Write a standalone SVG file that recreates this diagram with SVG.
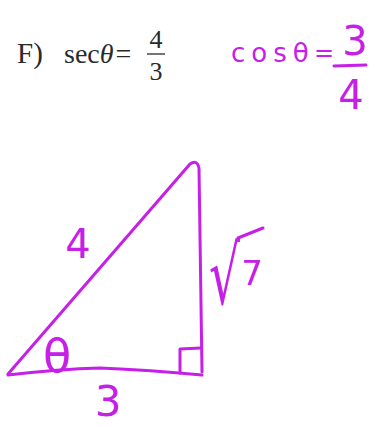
<svg xmlns="http://www.w3.org/2000/svg" width="382" height="427" viewBox="0 0 382 427">
<style>
.pen{fill:none;stroke:#c620e8;stroke-width:3;stroke-linecap:round;stroke-linejoin:round}
.hand{fill:#c620e8;font-family:"DejaVu Sans",sans-serif}
.print{fill:#2a2a2a;font-family:"Liberation Serif",serif}
</style>
<rect width="382" height="427" fill="#fff"/>
<g id="problem">
<text class="print" x="17" y="63" font-size="29">F)</text>
<text class="print" x="64" y="63" font-size="28">sec<tspan font-style="italic">θ</tspan><tspan dx="2">=</tspan></text>
<text class="print" x="156" y="48" font-size="26" text-anchor="middle">4</text>
<line x1="147" y1="54" x2="165" y2="54" stroke="#2a2a2a" stroke-width="1.3"/>
<text class="print" x="156" y="80" font-size="26" text-anchor="middle">3</text>
</g>
<g id="answer">
<text class="hand" x="231" y="62" font-size="26" letter-spacing="6">cosθ</text>
<text class="hand" x="314" y="61" font-size="24">=</text>
<text class="hand" x="355" y="55" font-size="40" text-anchor="middle">3</text>
<line class="pen" x1="334" y1="66" x2="366" y2="65"/>
<text class="hand" x="351" y="109" font-size="40" text-anchor="middle">4</text>
</g>
<g id="triangle">
<path class="pen" d="M8 374 L190 164 Q197 159 199 168 L202 372"/>
<path class="pen" d="M8 375 Q60 369 100 368 Q150 370 202 375"/>
<path class="pen" d="M180 373 L180 349 L201 348"/>
</g>
<g id="labels">
<text class="hand" x="78" y="258" font-size="40" text-anchor="middle">4</text>
<text class="hand" x="57" y="372" font-size="46" text-anchor="middle">θ</text>
<text class="hand" x="108" y="416" font-size="42" text-anchor="middle">3</text>
<text class="hand" transform="translate(209,304) scale(0.6,1)" font-size="81">√</text>
<line class="pen" x1="238" y1="238" x2="263" y2="228"/>
<text class="hand" x="252" y="285" font-size="34" text-anchor="middle">7</text>
</g>
</svg>
